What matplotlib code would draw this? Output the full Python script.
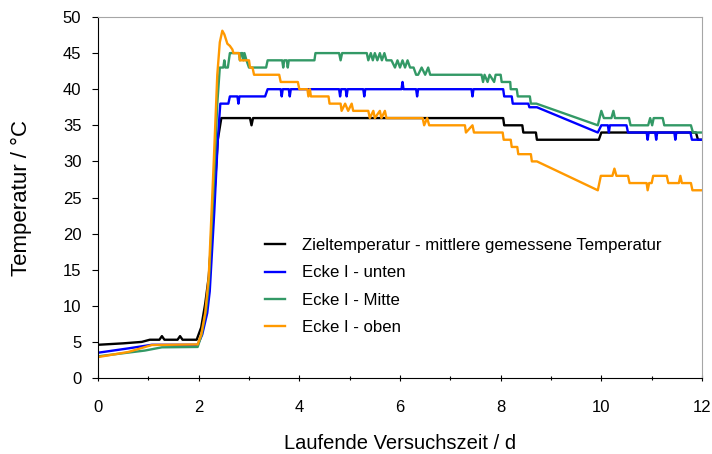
import matplotlib
matplotlib.use("Agg")
import matplotlib.pyplot as plt
from matplotlib.ticker import MultipleLocator

plt.rcParams['font.family'] = ['Liberation Sans', 'DejaVu Sans']

# ---- data ----
ziel_x = [0, 0.5, 0.87, 1.03, 1.22, 1.27, 1.32, 1.58, 1.63, 1.68, 1.96, 2.05, 2.13, 2.2, 2.3, 2.38, 2.45,
          3.02, 3.05, 3.08, 8.05, 8.07, 8.43, 8.45, 8.7, 8.72, 9.95, 10.0, 11.88, 11.92, 12]
ziel_y = [4.6, 4.8, 5.0, 5.3, 5.3, 5.8, 5.3, 5.3, 5.8, 5.3, 5.3, 7, 10.3, 14, 24, 33, 36,
          36, 35, 36, 36, 35, 35, 34, 34, 33, 33, 34, 34, 33, 33]

unten_x = [0, 0.6, 1.07, 1.98, 2.07, 2.17, 2.22, 2.31, 2.38, 2.43, 2.59, 2.62, 2.77, 2.79, 2.81, 3.32, 3.37,
           3.63, 3.65, 3.67, 3.79, 3.81, 3.83, 4.79, 4.81, 4.83, 4.92, 4.94, 4.96, 5.27, 5.29, 5.31,
           6.03, 6.05, 6.07, 6.32, 6.34, 6.36, 7.42, 7.44, 7.46, 8.05, 8.07, 8.22, 8.24, 8.55, 8.57, 8.72,
           9.93, 10.0, 10.13, 10.15, 10.17, 10.5, 10.53, 10.9, 10.92, 10.94, 11.07, 11.09, 11.11,
           11.45, 11.47, 11.49, 11.77, 11.8, 12]
unten_y = [3.5, 4.1, 4.6, 4.6, 6, 9, 12, 23, 33, 38, 38, 39, 39, 38, 39, 39, 40,
           40, 39, 40, 40, 39, 40, 40, 39, 40, 40, 39, 40, 40, 39, 40,
           40, 41, 40, 40, 39, 40, 40, 39, 40, 40, 39, 39, 38, 38, 37.5, 37.5,
           34, 35, 35, 34, 35, 35, 34, 34, 33, 34, 34, 33, 34,
           34, 33, 34, 34, 33, 33]

mitte_x = [0, 0.93, 1.27, 1.98, 2.06, 2.15, 2.2, 2.3, 2.37, 2.42, 2.49, 2.51, 2.53, 2.58, 2.62, 2.8, 2.82,
           2.84, 2.87, 2.89, 2.91, 2.95, 3.0, 3.34, 3.37, 3.66, 3.68, 3.7, 3.75, 3.77, 3.79, 4.3, 4.32,
           4.79, 4.82, 4.85, 5.34, 5.37, 5.42, 5.46, 5.5, 5.55, 5.6, 5.64, 5.69, 5.73, 5.77, 5.83,
           5.9, 5.95, 6.0, 6.05, 6.1, 6.15, 6.2, 6.27, 6.32, 6.36, 6.43, 6.5, 6.56, 6.6,
           7.62, 7.65, 7.68, 7.74, 7.78, 7.87, 7.9, 8.0, 8.02, 8.19, 8.2, 8.32, 8.34, 8.58, 8.6, 8.71,
           9.93, 10.0, 10.05, 10.2, 10.24, 10.27, 10.55, 10.58, 10.93, 10.97, 11.01, 11.04, 11.22, 11.25,
           11.78, 11.82, 12]
mitte_y = [3.0, 3.8, 4.25, 4.3, 6, 9.5, 13, 27, 38, 43, 43, 44, 43, 43, 45, 45, 44,
           45, 45, 44, 45, 44, 43, 43, 44, 44, 43, 44, 44, 43, 44, 44, 45,
           45, 44, 45, 45, 44, 45, 44, 45, 44, 45, 44, 45, 44, 44, 44,
           43, 44, 43, 44, 43, 44, 43, 43, 42, 42, 43, 42, 43, 42,
           42, 41, 42, 41, 42, 41, 42, 42, 41, 41, 40, 40, 39, 39, 38, 38,
           35, 37, 36, 36, 37, 36, 36, 35, 35, 36, 35, 36, 36, 35,
           35, 34, 34]

oben_x = [0, 0.6, 1.07, 1.98, 2.05, 2.13, 2.2, 2.3, 2.37, 2.42, 2.47, 2.51, 2.57, 2.62, 2.67, 2.69, 2.8,
          2.82, 3.0, 3.02, 3.07, 3.1, 3.6, 3.63, 3.97, 4.0, 4.16, 4.18, 4.21, 4.23, 4.58, 4.6, 4.82,
          4.84, 4.91, 4.97, 5.04, 5.07, 5.37, 5.4, 5.47, 5.5, 5.6, 5.63, 5.7, 5.73, 6.45, 6.48, 6.54, 6.58,
          7.29, 7.31, 7.44, 7.47, 8.04, 8.06, 8.2, 8.22, 8.33, 8.35, 8.6, 8.62, 8.72,
          9.93, 9.99, 10.22, 10.26, 10.3, 10.53, 10.56, 10.9, 10.92, 10.95, 11.0, 11.03, 11.3, 11.33,
          11.54, 11.57, 11.6, 11.78, 11.81, 12]
oben_y = [2.9, 3.6, 4.57, 4.65, 6, 9, 14, 30, 42, 46.5, 48.1, 47.6, 46.3, 46, 45.5, 45, 45,
          44, 44, 43, 43, 42, 42, 41, 41, 40, 40, 39, 40, 39, 39, 38, 38,
          37, 38, 37, 38, 37, 37, 36, 37, 36, 37, 36, 37, 36, 36, 35, 36, 35,
          35, 34, 35, 34, 34, 33, 33, 32, 32, 31, 31, 30, 30,
          26, 28, 28, 29, 28, 28, 27, 27, 26, 27, 27, 28, 28, 27,
          27, 28, 27, 27, 26, 26]

labels = ["Zieltemperatur - mittlere gemessene Temperatur", "Ecke I - unten", "Ecke I - Mitte", "Ecke I - oben"]
colors = ["#000000", "#0000FF", "#339966", "#FF9900"]
x_ticks = [0, 2, 4, 6, 8, 10, 12]
y_ticks = [0, 5, 10, 15, 20, 25, 30, 35, 40, 45, 50]

fig = plt.figure(figsize=(7.12, 4.54), dpi=100)
ax = fig.add_axes([98/712, 1-378/454, 604/712, 361/454])

series = [(ziel_x, ziel_y), (unten_x, unten_y), (mitte_x, mitte_y), (oben_x, oben_y)]
for (xs, ys), lab, col in zip(series, labels, colors):
    ax.plot(xs, ys, color=col, lw=1.7, label=lab)

ax.set_xlim(0, 12)
ax.set_ylim(0, 50)
ax.set_xticks(x_ticks)
ax.set_yticks(y_ticks)
ax.xaxis.set_minor_locator(MultipleLocator(1))
ax.tick_params(axis='x', which='major', direction='inout', length=5, width=0.8, labelsize=12, pad=13)
ax.tick_params(axis='x', which='minor', direction='inout', length=3, width=0.8)
ax.tick_params(axis='y', which='major', direction='out', length=4, width=0.8, labelsize=12, pad=8)
for s in ['top', 'right']:
    ax.spines[s].set_color('#a6a6a6')
for s in ['left', 'bottom']:
    ax.spines[s].set_color('black')

ax.set_xlabel("Laufende Versuchszeit / d", fontsize=14.5, labelpad=14)
ax.set_ylabel("Temperatur / °C", fontsize=16, labelpad=22)

leg = ax.legend(loc='upper left', bbox_to_anchor=(265/712, 1-238/454), bbox_transform=fig.transFigure,
                frameon=False, fontsize=12.1, handlelength=1.2, handletextpad=1.0,
                labelspacing=0.74, borderpad=0, borderaxespad=0)

fig.savefig("out.png", dpi=100)
